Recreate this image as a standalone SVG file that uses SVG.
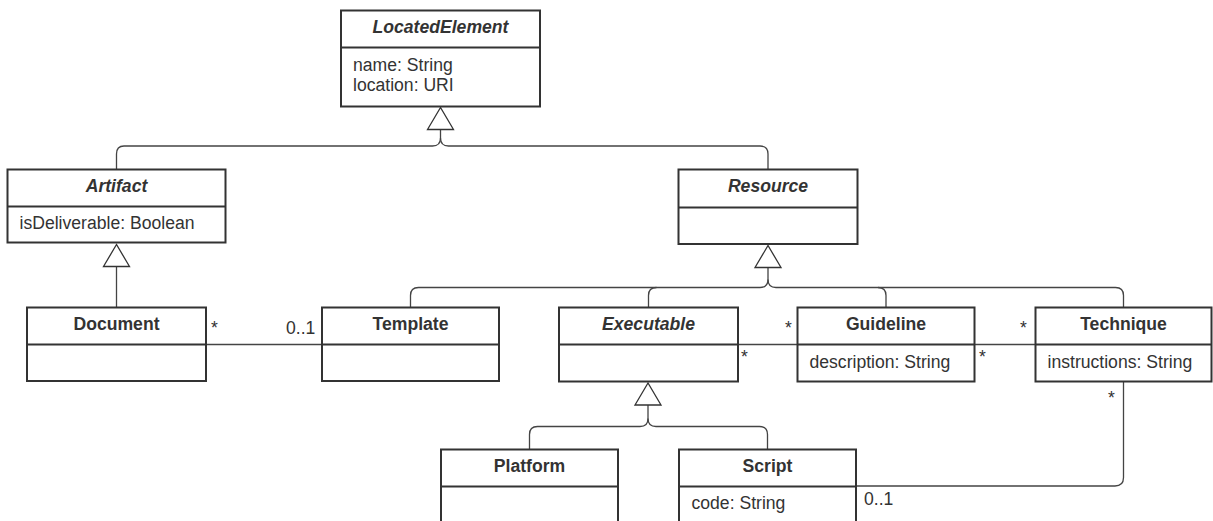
<svg xmlns="http://www.w3.org/2000/svg" width="1213" height="521" viewBox="0 0 1213 521">
<style>
.box{fill:#fff;stroke:#333;stroke-width:2}
.div{stroke:#333;stroke-width:2}
.hd{font-family:"Liberation Sans",Arial,sans-serif;font-size:17.6px;font-weight:bold;fill:#333;text-anchor:middle}
.it{font-style:italic}
.at{font-family:"Liberation Sans",Arial,sans-serif;font-size:17.6px;fill:#333}
.lb{font-family:"Liberation Sans",Arial,sans-serif;font-size:17.6px;fill:#333}
.cn{fill:none;stroke:#444;stroke-width:1.3}
.tri{fill:#fff;stroke:#333;stroke-width:1.3}
</style>
<rect width="1213" height="521" fill="#fff"/>
<g id="connectors">
<path class="cn" d="M440.5,129.5 V138 Q440.5,146 432.5,146 H124 Q116.5,146 116.5,154 V169.5"/>
<path class="cn" d="M440.5,138 Q440.5,146 448.5,146 H760 Q768,146 768,154 V169.5"/>
<polygon class="tri" points="440.5,107.5 427.5,129.5 453.5,129.5"/>
<path class="cn" d="M116.5,266.5 V307.5"/>
<polygon class="tri" points="116.5,244.5 103.5,266.5 129.5,266.5"/>
<path class="cn" d="M768,267.5 V279.5 Q768,287.5 760,287.5 H418.5 Q410.5,287.5 410.5,295.5 V307.5"/>
<path class="cn" d="M768,279.5 Q768,287.5 776,287.5 H1115.5 Q1123.5,287.5 1123.5,295.5 V307.5"/>
<path class="cn" d="M656.5,287.5 Q648.5,287.5 648.5,295.5 V307.5"/>
<path class="cn" d="M878,287.5 Q886,287.5 886,295.5 V307.5"/>
<polygon class="tri" points="768,245.5 755,267.5 781,267.5"/>
<path class="cn" d="M648,405 V418.5 Q648,426.5 640,426.5 H537.5 Q529.5,426.5 529.5,434.5 V449.5"/>
<path class="cn" d="M648,418.5 Q648,426.5 656,426.5 H759.5 Q767.5,426.5 767.5,434.5 V449.5"/>
<polygon class="tri" points="648,383 635,405 661,405"/>
<path class="cn" d="M206,344.5 H322"/>
<path class="cn" d="M738,344.5 H797.5"/>
<path class="cn" d="M975,344.5 H1035.5"/>
<path class="cn" d="M1123.5,381 V477.5 Q1123.5,486 1115,486 H855.5"/>
<text class="lb" x="211" y="334">*</text>
<text class="lb" x="286" y="334">0..1</text>
<text class="lb" x="785" y="334">*</text>
<text class="lb" x="741" y="363">*</text>
<text class="lb" x="979" y="363">*</text>
<text class="lb" x="1020" y="334">*</text>
<text class="lb" x="1108" y="404">*</text>
<text class="lb" x="864" y="505">0..1</text>
</g>
<g id="LocatedElement">
<rect class="box" x="341" y="10.5" width="199" height="96"/>
<line class="div" x1="341" y1="47.5" x2="540" y2="47.5"/>
<text class="hd it" x="440.5" y="33">LocatedElement</text>
<text class="at" x="353" y="71">name: String</text>
<text class="at" x="353" y="91">location: URI</text>
</g>
<g id="Artifact">
<rect class="box" x="7.5" y="169.5" width="218" height="73"/>
<line class="div" x1="7.5" y1="206.5" x2="225.5" y2="206.5"/>
<text class="hd it" x="116.5" y="192">Artifact</text>
<text class="at" x="19.5" y="229">isDeliverable: Boolean</text>
</g>
<g id="Resource">
<rect class="box" x="678.5" y="169.5" width="179" height="74.5"/>
<line class="div" x1="678.5" y1="207.5" x2="857.5" y2="207.5"/>
<text class="hd it" x="768" y="192">Resource</text>
</g>
<g id="Document">
<rect class="box" x="27" y="307.5" width="179" height="73.5"/>
<line class="div" x1="27" y1="344.5" x2="206" y2="344.5"/>
<text class="hd" x="116.5" y="330">Document</text>
</g>
<g id="Template">
<rect class="box" x="322" y="307.5" width="177" height="73.5"/>
<line class="div" x1="322" y1="344.5" x2="499" y2="344.5"/>
<text class="hd" x="410.5" y="330">Template</text>
</g>
<g id="Executable">
<rect class="box" x="559" y="307.5" width="179" height="74"/>
<line class="div" x1="559" y1="344.5" x2="738" y2="344.5"/>
<text class="hd it" x="648.5" y="330">Executable</text>
</g>
<g id="Guideline">
<rect class="box" x="797.5" y="307.5" width="177" height="74"/>
<line class="div" x1="797.5" y1="344.5" x2="974.5" y2="344.5"/>
<text class="hd" x="886" y="330">Guideline</text>
<text class="at" x="809.5" y="368">description: String</text>
</g>
<g id="Technique">
<rect class="box" x="1035.5" y="307.5" width="176" height="74"/>
<line class="div" x1="1035.5" y1="344.5" x2="1211.5" y2="344.5"/>
<text class="hd" x="1123.5" y="330">Technique</text>
<text class="at" x="1047.5" y="368">instructions: String</text>
</g>
<g id="Platform">
<rect class="box" x="441" y="449.5" width="177" height="90"/>
<line class="div" x1="441" y1="486.5" x2="618" y2="486.5"/>
<text class="hd" x="529.5" y="472">Platform</text>
</g>
<g id="Script">
<rect class="box" x="679" y="449.5" width="177" height="90"/>
<line class="div" x1="679" y1="486.5" x2="856" y2="486.5"/>
<text class="hd" x="767.5" y="472">Script</text>
<text class="at" x="691.5" y="509">code: String</text>
</g>
</svg>
